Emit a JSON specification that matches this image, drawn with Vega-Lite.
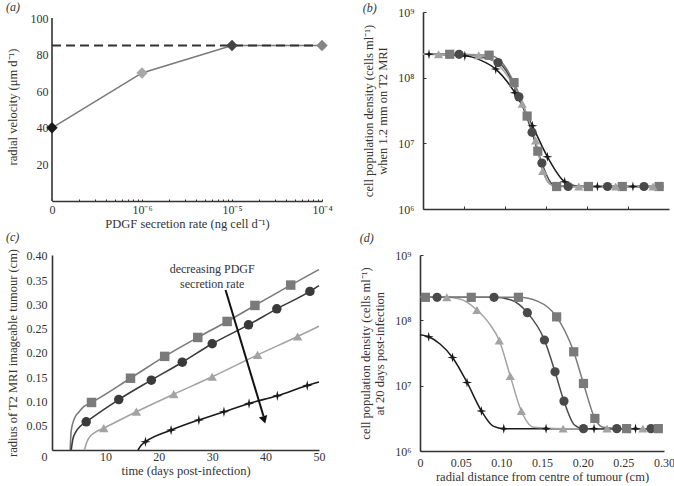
{
  "$schema": "https://vega.github.io/schema/vega-lite/v6.json",
  "padding": {"left": 6, "top": 1, "right": 0, "bottom": 0},
  "background": "white",
  "config": {
    "font": "Liberation Serif",
    "view": {"stroke": null},
    "axis": {"grid": false, "domainColor": "#333", "domainWidth": 1.6, "labelColor": "#333", "labelFont": "Liberation Serif", "labelFontSize": 12, "titleFont": "Liberation Serif", "titleFontSize": 12.5, "titleFontWeight": "normal", "titleColor": "#333", "tickColor": "#333", "labelFlush": false, "labelOverlap": false},
    "title": {"font": "Liberation Serif", "fontSize": 12, "fontStyle": "italic", "fontWeight": "normal", "color": "#333", "anchor": "start", "frame": "bounds"},
    "line": {"strokeWidth": 1.5}
  },
  "datasets": {
    "a_pts": [
      {"rate": 1e-7, "velocity": 40, "marker": "zero"},
      {"rate": 1e-6, "velocity": 70, "marker": "e6"},
      {"rate": 1e-5, "velocity": 85, "marker": "e5"},
      {"rate": 1e-4, "velocity": 85, "marker": "e4"}
    ],
    "a_ref": [{"rate_from": 1e-7, "rate_to": 1e-4, "velocity": 85}],
    "a_axis": [{"rate": 1e-7, "v0": 0, "v1": 100}],
    "b_data": [
      {"series": "st", "r": 0, "density": 2.27e8, "m": 0},
      {"series": "st", "r": 0.0073, "density": 2.27e8, "m": 1},
      {"series": "st", "r": 0.051, "density": 2.15e8, "m": 1},
      {"series": "st", "r": 0.07, "density": 1.85e8, "m": 0},
      {"series": "st", "r": 0.0887, "density": 1.35e8, "m": 1},
      {"series": "st", "r": 0.112, "density": 5.9e7, "m": 1},
      {"series": "st", "r": 0.1334, "density": 1.85e7, "m": 1},
      {"series": "st", "r": 0.1517, "density": 6.25e6, "m": 1},
      {"series": "st", "r": 0.1728, "density": 2.6e6, "m": 1},
      {"series": "st", "r": 0.19, "density": 2.22e6, "m": 0},
      {"series": "st", "r": 0.2127, "density": 2.2e6, "m": 1},
      {"series": "st", "r": 0.256, "density": 2.2e6, "m": 1},
      {"series": "st", "r": 0.293, "density": 2.2e6, "m": 0},
      {"series": "sq", "r": 0, "density": 2.27e8, "m": 0},
      {"series": "sq", "r": 0.0326, "density": 2.27e8, "m": 1},
      {"series": "sq", "r": 0.0806, "density": 2.2e8, "m": 1},
      {"series": "sq", "r": 0.098, "density": 1.6e8, "m": 0},
      {"series": "sq", "r": 0.111, "density": 8.4e7, "m": 1},
      {"series": "sq", "r": 0.127, "density": 2.6e7, "m": 1},
      {"series": "sq", "r": 0.14, "density": 7.6e6, "m": 1},
      {"series": "sq", "r": 0.152, "density": 2.6e6, "m": 0},
      {"series": "sq", "r": 0.163, "density": 2.2e6, "m": 1},
      {"series": "sq", "r": 0.2017, "density": 2.2e6, "m": 1},
      {"series": "sq", "r": 0.243, "density": 2.2e6, "m": 1},
      {"series": "sq", "r": 0.288, "density": 2.2e6, "m": 1},
      {"series": "sq", "r": 0.293, "density": 2.2e6, "m": 0},
      {"series": "ci", "r": 0, "density": 2.27e8, "m": 0},
      {"series": "ci", "r": 0.044, "density": 2.27e8, "m": 1},
      {"series": "ci", "r": 0.0915, "density": 1.7e8, "m": 1},
      {"series": "ci", "r": 0.117, "density": 5.1e7, "m": 1},
      {"series": "ci", "r": 0.133, "density": 1.47e7, "m": 1},
      {"series": "ci", "r": 0.145, "density": 5.0e6, "m": 1},
      {"series": "ci", "r": 0.158, "density": 2.4e6, "m": 0},
      {"series": "ci", "r": 0.177, "density": 2.2e6, "m": 1},
      {"series": "ci", "r": 0.225, "density": 2.2e6, "m": 1},
      {"series": "ci", "r": 0.2695, "density": 2.2e6, "m": 1},
      {"series": "ci", "r": 0.293, "density": 2.2e6, "m": 0},
      {"series": "tr", "r": 0, "density": 2.27e8, "m": 0},
      {"series": "tr", "r": 0.019, "density": 2.27e8, "m": 1},
      {"series": "tr", "r": 0.068, "density": 2.2e8, "m": 1},
      {"series": "tr", "r": 0.1, "density": 1.2e8, "m": 0},
      {"series": "tr", "r": 0.121, "density": 4.0e7, "m": 1},
      {"series": "tr", "r": 0.1374, "density": 1.1e7, "m": 1},
      {"series": "tr", "r": 0.146, "density": 3.8e6, "m": 1},
      {"series": "tr", "r": 0.158, "density": 2.3e6, "m": 0},
      {"series": "tr", "r": 0.19, "density": 2.2e6, "m": 1},
      {"series": "tr", "r": 0.235, "density": 2.2e6, "m": 1},
      {"series": "tr", "r": 0.2805, "density": 2.2e6, "m": 1},
      {"series": "tr", "r": 0.293, "density": 2.2e6, "m": 0}
    ],
    "c_data": [
      {"series": "sq", "day": 3.4, "radius": 0, "m": 0},
      {"series": "sq", "day": 3.6, "radius": 0.04, "m": 0},
      {"series": "sq", "day": 4.2, "radius": 0.065, "m": 0},
      {"series": "sq", "day": 5.0, "radius": 0.078, "m": 0},
      {"series": "sq", "day": 6.0, "radius": 0.09, "m": 0},
      {"series": "sq", "day": 7.4, "radius": 0.098, "m": 1},
      {"series": "sq", "day": 14.7, "radius": 0.148, "m": 1},
      {"series": "sq", "day": 21.1, "radius": 0.193, "m": 1},
      {"series": "sq", "day": 27.3, "radius": 0.232, "m": 1},
      {"series": "sq", "day": 32.8, "radius": 0.265, "m": 1},
      {"series": "sq", "day": 38.0, "radius": 0.298, "m": 1},
      {"series": "sq", "day": 44.7, "radius": 0.34, "m": 1},
      {"series": "sq", "day": 50, "radius": 0.372, "m": 0},
      {"series": "ci", "day": 3.6, "radius": 0, "m": 0},
      {"series": "ci", "day": 3.9, "radius": 0.022, "m": 0},
      {"series": "ci", "day": 4.5, "radius": 0.038, "m": 0},
      {"series": "ci", "day": 5.3, "radius": 0.049, "m": 0},
      {"series": "ci", "day": 6.4, "radius": 0.058, "m": 1},
      {"series": "ci", "day": 12.5, "radius": 0.104, "m": 1},
      {"series": "ci", "day": 18.6, "radius": 0.144, "m": 1},
      {"series": "ci", "day": 24.4, "radius": 0.181, "m": 1},
      {"series": "ci", "day": 30.0, "radius": 0.219, "m": 1},
      {"series": "ci", "day": 36.8, "radius": 0.258, "m": 1},
      {"series": "ci", "day": 42.1, "radius": 0.291, "m": 1},
      {"series": "ci", "day": 48.3, "radius": 0.327, "m": 1},
      {"series": "ci", "day": 50, "radius": 0.339, "m": 0},
      {"series": "tr", "day": 6.1, "radius": 0, "m": 0},
      {"series": "tr", "day": 6.4, "radius": 0.013, "m": 0},
      {"series": "tr", "day": 7.0, "radius": 0.026, "m": 0},
      {"series": "tr", "day": 8.0, "radius": 0.036, "m": 0},
      {"series": "tr", "day": 9.7, "radius": 0.045, "m": 1},
      {"series": "tr", "day": 15.8, "radius": 0.079, "m": 1},
      {"series": "tr", "day": 22.8, "radius": 0.115, "m": 1},
      {"series": "tr", "day": 30.0, "radius": 0.151, "m": 1},
      {"series": "tr", "day": 38.5, "radius": 0.196, "m": 1},
      {"series": "tr", "day": 46.0, "radius": 0.234, "m": 1},
      {"series": "tr", "day": 50, "radius": 0.255, "m": 0},
      {"series": "st", "day": 16.1, "radius": 0, "m": 0},
      {"series": "st", "day": 16.7, "radius": 0.01, "m": 0},
      {"series": "st", "day": 17.5, "radius": 0.017, "m": 1},
      {"series": "st", "day": 22.3, "radius": 0.041, "m": 1},
      {"series": "st", "day": 27.5, "radius": 0.062, "m": 1},
      {"series": "st", "day": 32.2, "radius": 0.079, "m": 1},
      {"series": "st", "day": 36.9, "radius": 0.096, "m": 1},
      {"series": "st", "day": 42.2, "radius": 0.112, "m": 1},
      {"series": "st", "day": 47.8, "radius": 0.133, "m": 1},
      {"series": "st", "day": 50, "radius": 0.14, "m": 0}
    ],
    "c_arrow": [{"day": 32.5, "radius": 0.33, "day2": 39.6, "radius2": 0.07}],
    "c_head": [{"day": 39.73, "radius": 0.062}],
    "c_text": [
      {"day": 30, "radius": 0.373, "t": "decreasing PDGF"},
      {"day": 30, "radius": 0.342, "t": "secretion rate"}
    ],
    "d_data": [
      {"series": "st", "r": 0, "density": 6.0e7, "m": 0},
      {"series": "st", "r": 0.0107, "density": 5.6e7, "m": 1},
      {"series": "st", "r": 0.025, "density": 4.3e7, "m": 0},
      {"series": "st", "r": 0.04, "density": 2.7e7, "m": 1},
      {"series": "st", "r": 0.0578, "density": 1.12e7, "m": 1},
      {"series": "st", "r": 0.0755, "density": 4.1e6, "m": 1},
      {"series": "st", "r": 0.09, "density": 2.4e6, "m": 0},
      {"series": "st", "r": 0.103, "density": 2.2e6, "m": 1},
      {"series": "st", "r": 0.155, "density": 2.2e6, "m": 1},
      {"series": "st", "r": 0.214, "density": 2.2e6, "m": 1},
      {"series": "st", "r": 0.265, "density": 2.2e6, "m": 1},
      {"series": "st", "r": 0.293, "density": 2.2e6, "m": 0},
      {"series": "tr", "r": 0, "density": 2.25e8, "m": 0},
      {"series": "tr", "r": 0.033, "density": 2.25e8, "m": 1},
      {"series": "tr", "r": 0.05, "density": 2.1e8, "m": 0},
      {"series": "tr", "r": 0.07, "density": 1.44e8, "m": 1},
      {"series": "tr", "r": 0.085, "density": 9.0e7, "m": 0},
      {"series": "tr", "r": 0.0975, "density": 4.9e7, "m": 1},
      {"series": "tr", "r": 0.111, "density": 1.4e7, "m": 1},
      {"series": "tr", "r": 0.1246, "density": 4.1e6, "m": 1},
      {"series": "tr", "r": 0.14, "density": 2.3e6, "m": 0},
      {"series": "tr", "r": 0.176, "density": 2.2e6, "m": 1},
      {"series": "tr", "r": 0.23, "density": 2.2e6, "m": 1},
      {"series": "tr", "r": 0.274, "density": 2.2e6, "m": 1},
      {"series": "tr", "r": 0.293, "density": 2.2e6, "m": 0},
      {"series": "ci", "r": 0, "density": 2.25e8, "m": 0},
      {"series": "ci", "r": 0.021, "density": 2.25e8, "m": 1},
      {"series": "ci", "r": 0.091, "density": 2.25e8, "m": 1},
      {"series": "ci", "r": 0.112, "density": 2.05e8, "m": 0},
      {"series": "ci", "r": 0.132, "density": 1.31e8, "m": 1},
      {"series": "ci", "r": 0.153, "density": 5.0e7, "m": 1},
      {"series": "ci", "r": 0.166, "density": 1.63e7, "m": 1},
      {"series": "ci", "r": 0.177, "density": 5.8e6, "m": 1},
      {"series": "ci", "r": 0.19, "density": 2.5e6, "m": 0},
      {"series": "ci", "r": 0.201, "density": 2.2e6, "m": 1},
      {"series": "ci", "r": 0.242, "density": 2.2e6, "m": 1},
      {"series": "ci", "r": 0.284, "density": 2.2e6, "m": 1},
      {"series": "ci", "r": 0.293, "density": 2.2e6, "m": 0},
      {"series": "sq", "r": 0, "density": 2.25e8, "m": 0},
      {"series": "sq", "r": 0.0066, "density": 2.25e8, "m": 1},
      {"series": "sq", "r": 0.063, "density": 2.25e8, "m": 1},
      {"series": "sq", "r": 0.121, "density": 2.25e8, "m": 1},
      {"series": "sq", "r": 0.145, "density": 1.95e8, "m": 0},
      {"series": "sq", "r": 0.168, "density": 1.13e8, "m": 1},
      {"series": "sq", "r": 0.189, "density": 3.3e7, "m": 1},
      {"series": "sq", "r": 0.201, "density": 1.08e7, "m": 1},
      {"series": "sq", "r": 0.215, "density": 3.15e6, "m": 1},
      {"series": "sq", "r": 0.225, "density": 2.3e6, "m": 0},
      {"series": "sq", "r": 0.254, "density": 2.2e6, "m": 1},
      {"series": "sq", "r": 0.293, "density": 2.2e6, "m": 1}
    ]
  },
  "resolve": {"scale": {"color": "independent", "shape": "independent"}},
  "spacing": 1,
  "vconcat": [
    {
      "spacing": 29,
      "resolve": {"scale": {"color": "independent", "shape": "independent"}},
      "hconcat": [
        {
          "width": 270,
          "height": 189,
          "title": {"text": "(a)", "offset": -2},
          "layer": [
            {
              "data": {"name": "a_pts"},
              "mark": {"type": "line", "color": "#7a7a7a", "strokeWidth": 1.6},
              "encoding": {
                "x": {"field": "rate", "type": "quantitative", "scale": {"type": "log", "domain": [1e-7, 1e-4], "nice": false},
                  "axis": {"title": "PDGF secretion rate (ng cell d⁻¹)",
                    "values": [1e-7, 2e-7, 3e-7, 4e-7, 5e-7, 6e-7, 7e-7, 8e-7, 9e-7, 1e-6, 2e-6, 3e-6, 4e-6, 5e-6, 6e-6, 7e-6, 8e-6, 9e-6, 1e-5, 2e-5, 3e-5, 4e-5, 5e-5, 6e-5, 7e-5, 8e-5, 9e-5, 1e-4],
                    "labelExpr": "datum.value < 1.5e-7 ? '0' : abs(datum.value / 1e-6 - 1) < 0.01 ? '10⁻⁶' : abs(datum.value / 1e-5 - 1) < 0.01 ? '10⁻⁵' : abs(datum.value / 1e-4 - 1) < 0.01 ? '10⁻⁴' : ''",
                    "labelOverlap": false, "tickSize": -2, "tickWidth": 1, "labelPadding": 5, "titlePadding": 2}},
                "y": {"field": "velocity", "type": "quantitative", "scale": {"domain": [0, 103.3], "nice": false},
                  "axis": {"title": "radial velocity (μm d⁻¹)", "values": [20, 40, 60, 80, 100], "domain": false, "ticks": false, "labelOverlap": false, "labelPadding": 4, "titlePadding": 11}}
              }
            },
            {
              "data": {"name": "a_axis"},
              "mark": {"type": "rule", "strokeWidth": 1.6, "color": "#333"},
              "encoding": {
                "x": {"field": "rate", "type": "quantitative"},
                "y": {"field": "v0", "type": "quantitative"},
                "y2": {"field": "v1"}
              }
            },
            {
              "data": {"name": "a_ref"},
              "mark": {"type": "rule", "strokeDash": [9, 5], "strokeWidth": 1.8, "color": "#333"},
              "encoding": {
                "x": {"field": "rate_from", "type": "quantitative"},
                "x2": {"field": "rate_to"},
                "y": {"field": "velocity", "type": "quantitative"}
              }
            },
            {
              "data": {"name": "a_pts"},
              "mark": {"type": "point", "shape": "diamond", "filled": true, "size": 130, "opacity": 1},
              "encoding": {
                "x": {"field": "rate", "type": "quantitative"},
                "y": {"field": "velocity", "type": "quantitative"},
                "color": {"field": "marker", "type": "nominal", "scale": {"domain": ["zero", "e6", "e5", "e4"], "range": ["#1a1a1a", "#a8a8a8", "#444444", "#858585"]}, "legend": null}
              }
            },
            {
              "mark": {"type": "text", "text": "\\\\", "fontSize": 12, "fontWeight": "bold", "color": "#222", "baseline": "middle"},
              "encoding": {
                "x": {"datum": 1.32e-7, "type": "quantitative"},
                "y": {"datum": 0, "type": "quantitative"}
              }
            }
          ]
        },
        {
          "width": 246,
          "height": 197,
          "title": {"text": "(b)", "offset": -9},
          "data": {"name": "b_data"},
          "encoding": {
            "x": {"field": "r", "type": "quantitative", "scale": {"domain": [0, 0.3], "nice": false},
              "axis": {"title": null, "labels": false, "values": [0.05, 0.1, 0.15, 0.2, 0.25], "tickSize": -3, "tickWidth": 1}},
            "y": {"field": "density", "type": "quantitative", "scale": {"type": "log", "domain": [1e6, 1e9], "nice": false},
              "axis": {"title": ["cell population density (cells ml⁻¹)", "when 1.2 mm on T2 MRI"], "values": [1e6, 1e7, 1e8, 1e9],
                "labelExpr": "datum.value < 2e6 ? '10⁶' : datum.value < 2e7 ? '10⁷' : datum.value < 2e8 ? '10⁸' : '10⁹'",
                "labelOverlap": false, "tickSize": -3, "tickWidth": 1, "labelPadding": 12, "titlePadding": 8, "titleLineHeight": 14}},
            "color": {"field": "series", "type": "nominal", "scale": {"domain": ["sq", "ci", "tr", "st"], "range": ["#7a7a7a", "#4a4a4a", "#a3a3a3", "#1a1a1a"]}, "legend": null}
          },
          "layer": [
            {"mark": {"type": "line", "interpolate": "monotone", "strokeWidth": 1.5}},
            {
              "transform": [{"filter": "datum.m == 1"}],
              "mark": {"type": "point", "filled": true, "opacity": 1, "size": 85},
              "encoding": {
                "shape": {"field": "series", "type": "nominal", "scale": {"domain": ["sq", "ci", "tr", "st"], "range": ["square", "circle", "triangle-up", "M0,-1.1L0.22,-0.22L1.1,0L0.22,0.22L0,1.1L-0.22,0.22L-1.1,0L-0.22,-0.22Z"]}, "legend": null}
              }
            }
          ]
        }
      ]
    },
    {
      "spacing": 34,
      "resolve": {"scale": {"color": "independent", "shape": "independent"}},
      "hconcat": [
        {
          "width": 267,
          "height": 195,
          "title": {"text": "(c)", "offset": 4},
          "data": {"name": "c_data"},
          "encoding": {
            "x": {"field": "day", "type": "quantitative", "scale": {"domain": [0, 50], "nice": false},
              "axis": {"title": "time (days post-infection)", "values": [0, 10, 20, 30, 40, 50], "ticks": false, "labelOverlap": false, "labelPadding": 1, "titlePadding": 2,
                "labelOffset": {"condition": {"test": "datum.value == 0", "value": -8}, "value": 0}}},
            "y": {"field": "radius", "type": "quantitative", "scale": {"domain": [0, 0.402], "nice": false},
              "axis": {"title": "radius of T2 MRI imageable tumour (cm)", "values": [0.05, 0.1, 0.15, 0.2, 0.25, 0.3, 0.35, 0.4],
                "labelExpr": "format(datum.value, '.2f')", "ticks": false, "labelOverlap": false, "labelSeparation": 0, "labelPadding": 5, "titlePadding": 7}}
          },
          "layer": [
            {
              "mark": {"type": "line", "interpolate": "monotone", "strokeWidth": 1.6},
              "encoding": {
                "color": {"field": "series", "type": "nominal", "scale": {"domain": ["sq", "ci", "tr", "st"], "range": ["#7a7a7a", "#3a3a3a", "#a3a3a3", "#1a1a1a"]}, "legend": null}
              }
            },
            {
              "transform": [{"filter": "datum.m == 1"}],
              "mark": {"type": "point", "filled": true, "opacity": 1, "size": 90},
              "encoding": {
                "color": {"field": "series", "type": "nominal", "legend": null},
                "shape": {"field": "series", "type": "nominal", "scale": {"domain": ["sq", "ci", "tr", "st"], "range": ["square", "circle", "triangle-up", "M0,-1.1L0.22,-0.22L1.1,0L0.22,0.22L0,1.1L-0.22,0.22L-1.1,0L-0.22,-0.22Z"]}, "legend": null}
              }
            },
            {
              "data": {"name": "c_arrow"},
              "mark": {"type": "rule", "color": "#111", "strokeWidth": 2},
              "encoding": {
                "x2": {"field": "day2"},
                "y2": {"field": "radius2"}
              }
            },
            {
              "data": {"name": "c_head"},
              "mark": {"type": "point", "shape": "triangle-down", "filled": true, "opacity": 1, "size": 75, "angle": -16.5, "color": "#111"}
            },
            {
              "data": {"name": "c_text"},
              "mark": {"type": "text", "fontSize": 12, "color": "#333", "align": "center", "baseline": "middle"},
              "encoding": {
                "text": {"field": "t"}
              }
            }
          ]
        },
        {
          "width": 244,
          "height": 196,
          "title": {"text": "(d)", "offset": 4},
          "data": {"name": "d_data"},
          "encoding": {
            "x": {"field": "r", "type": "quantitative", "scale": {"domain": [0, 0.3], "nice": false},
              "axis": {"title": "radial distance from centre of tumour (cm)", "values": [0, 0.05, 0.1, 0.15, 0.2, 0.25, 0.3],
                "labelExpr": "datum.value == 0 ? '0' : format(datum.value, '.2f')", "ticks": false, "labelOverlap": false, "labelPadding": 6, "titlePadding": 2}},
            "y": {"field": "density", "type": "quantitative", "scale": {"type": "log", "domain": [1e6, 1e9], "nice": false},
              "axis": {"title": ["cell population density (cells ml⁻¹)", "at 20 days post-infection"], "values": [1e6, 1e7, 1e8, 1e9],
                "labelExpr": "datum.value < 2e6 ? '10⁶' : datum.value < 2e7 ? '10⁷' : datum.value < 2e8 ? '10⁸' : '10⁹'",
                "labelOverlap": false, "tickSize": -3, "tickWidth": 1, "labelPadding": 12, "titlePadding": 8, "titleLineHeight": 14}},
            "color": {"field": "series", "type": "nominal", "scale": {"domain": ["sq", "ci", "tr", "st"], "range": ["#7a7a7a", "#4a4a4a", "#a3a3a3", "#1a1a1a"]}, "legend": null}
          },
          "layer": [
            {"mark": {"type": "line", "interpolate": "monotone", "strokeWidth": 1.5}},
            {
              "transform": [{"filter": "datum.m == 1"}],
              "mark": {"type": "point", "filled": true, "opacity": 1, "size": 85},
              "encoding": {
                "shape": {"field": "series", "type": "nominal", "scale": {"domain": ["sq", "ci", "tr", "st"], "range": ["square", "circle", "triangle-up", "M0,-1.1L0.22,-0.22L1.1,0L0.22,0.22L0,1.1L-0.22,0.22L-1.1,0L-0.22,-0.22Z"]}, "legend": null}
              }
            }
          ]
        }
      ]
    }
  ]
}
